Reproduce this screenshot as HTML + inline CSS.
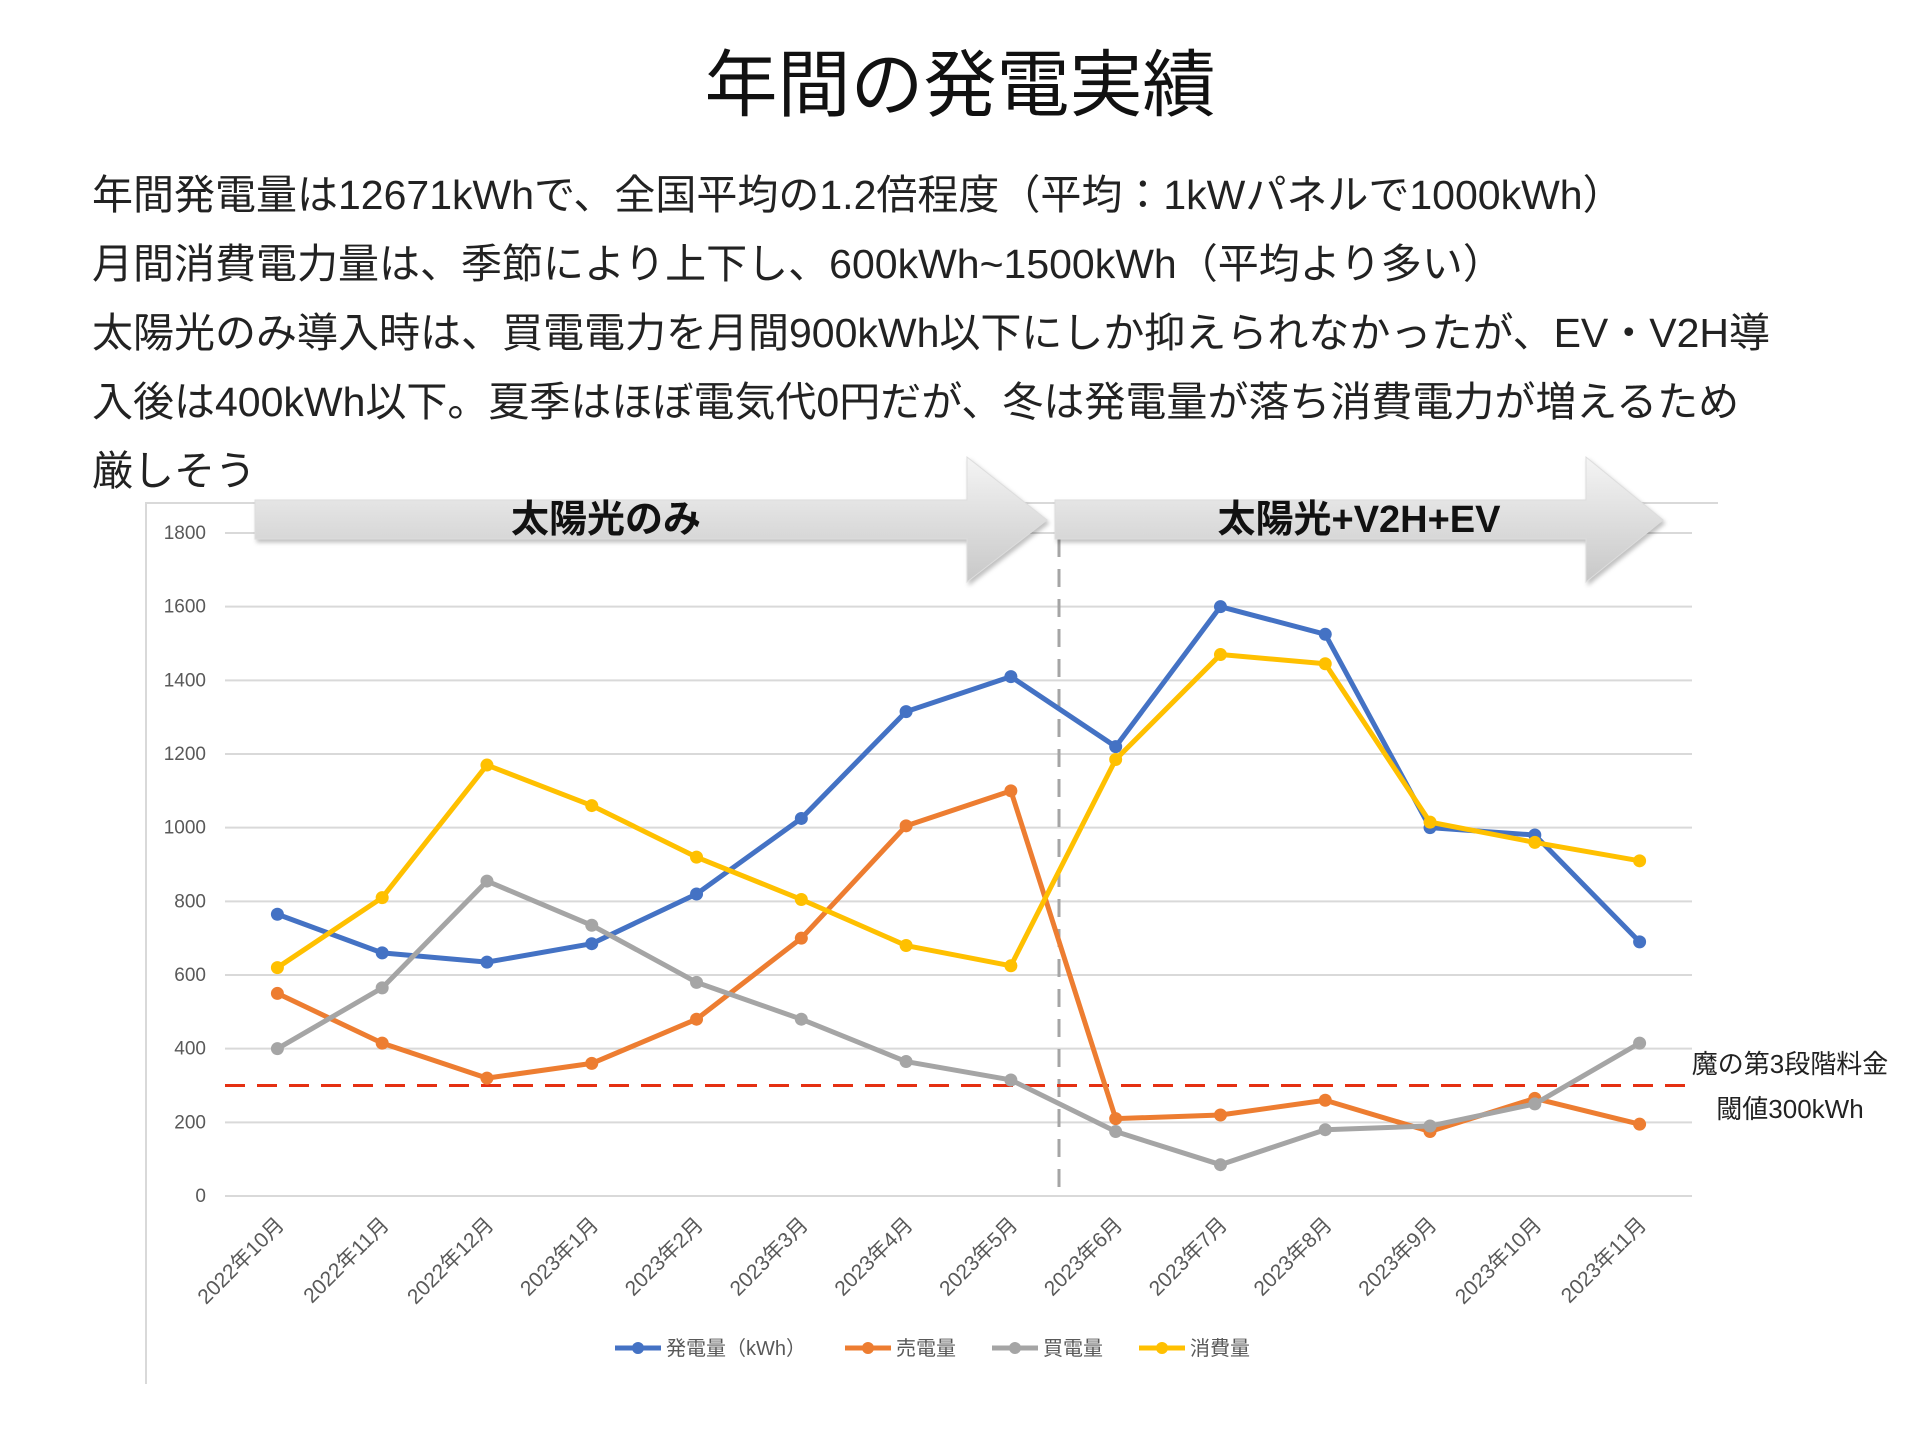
<!DOCTYPE html>
<html><head><meta charset="utf-8">
<style>
html,body{margin:0;padding:0;background:#fff;width:1920px;height:1440px;overflow:hidden;font-family:"Liberation Sans","Noto Sans CJK JP",sans-serif;}
#title{position:absolute;left:0;width:1920px;top:26px;text-align:center;font-size:73px;color:#111;}
#para{position:absolute;left:92px;top:161px;font-size:41px;line-height:69px;color:#222;white-space:nowrap;}
</style></head>
<body>
<div id="title">年間の発電実績</div>
<div id="para">年間発電量は12671kWhで、全国平均の1.2倍程度（平均：1kWパネルで1000kWh）<br>月間消費電力量は、季節により上下し、600kWh~1500kWh（平均より多い）<br>太陽光のみ導入時は、買電電力を月間900kWh以下にしか抑えられなかったが、EV・V2H導<br>入後は400kWh以下。夏季はほぼ電気代0円だが、冬は発電量が落ち消費電力が増えるため<br>厳しそう</div>
<svg id="chart" width="1920" height="1440" style="position:absolute;left:0;top:0">
<defs>
<linearGradient id="g" x1="0" y1="0" x2="0" y2="1"><stop offset="0" stop-color="#f4f4f4"/><stop offset="1" stop-color="#c8c8c8"/></linearGradient>
</defs>
<g id="frame"></g>
<g id="grid"></g>
<g id="arrows"></g>
<g id="series"></g>
<g id="labels"></g>
</svg>
<script>
const categories=["2022年10月","2022年11月","2022年12月","2023年1月","2023年2月","2023年3月","2023年4月","2023年5月","2023年6月","2023年7月","2023年8月","2023年9月","2023年10月","2023年11月"];
const generation=[765,660,635,685,820,1025,1315,1410,1220,1600,1525,1000,980,690];
const sold=[550,415,320,360,480,700,1005,1100,210,220,260,175,265,195];
const bought=[400,565,855,735,580,480,365,315,175,85,180,190,250,415];
const consumption=[620,810,1170,1060,920,805,680,625,1185,1470,1445,1015,960,910];
const yTicks=[0,200,400,600,800,1000,1200,1400,1600,1800];
const threshold=300;
const seriesNames=["発電量（kWh）","売電量","買電量","消費量"];
const seriesColors=["#4472c4","#ed7d31","#a5a5a5","#ffc000"];

const NS="http://www.w3.org/2000/svg";
const X0=225,X1=1692,Y0=1196,Y1=533,YMAX=1800;
const step=(X1-X0)/categories.length;
const xs=i=>X0+step*(i+0.5);
const ys=v=>Y0-(v/YMAX)*(Y0-Y1);
function mk(tag,attrs,parent,text){const e=document.createElementNS(NS,tag);for(const k in attrs)e.setAttribute(k,attrs[k]);if(text!==undefined)e.textContent=text;document.getElementById(parent).appendChild(e);return e;}

let e;
e=mk('path',{d:`M146 1384 V503 H1718`,fill:'none',stroke:'#d9d9d9','stroke-width':2},'frame');



yTicks.forEach(t=>{
  e=mk('line',{x1:X0,x2:X1,y1:ys(t),y2:ys(t),stroke:'#d9d9d9','stroke-width':2},'grid');
  
  
  e=mk('text',{x:206,y:ys(t)+6,'text-anchor':'end','font-size':19,fill:'#595959'},'labels',String(t));
  
  
});
categories.forEach((c,i)=>{
  e=mk('text',{transform:`translate(${xs(i)+8},1226) rotate(-45)`,'text-anchor':'end','font-size':21,fill:'#595959'},'labels',c);
  
  
});

const divX=1059;
e=mk('line',{x1:divX,x2:divX,y1:539,y2:Y0,stroke:'#a5a5a5','stroke-width':3,'stroke-dasharray':'18,12'},'grid');


e=mk('line',{x1:X0,x2:X1,y1:ys(threshold),y2:ys(threshold),stroke:'#e53012','stroke-width':3,'stroke-dasharray':'20,12'},'grid');



function arrow(x0,x1,xh,lx,label,name){
  const g=mk('g',{},'arrows');
  
  
  const p=document.createElementNS(NS,'path');
  p.setAttribute('d',`M${x0} 500 H${x1} V457 L${xh} 520 L${x1} 582 V539 H${x0} Z`);
  p.setAttribute('fill','url(#g)');p.setAttribute('stroke','#ddd');
  p.setAttribute('style','filter:drop-shadow(2px 3px 2px rgba(0,0,0,0.25))');
  g.appendChild(p);
  const t=document.createElementNS(NS,'text');
  t.setAttribute('x',lx);t.setAttribute('y',532);t.setAttribute('text-anchor','middle');
  t.setAttribute('font-size',38);t.setAttribute('font-weight','bold');t.setAttribute('fill','#111');
  t.textContent=label;g.appendChild(t);
}
arrow(255,967,1047,606,"太陽光のみ","phase-arrow-solar");
arrow(1055,1586,1663,1359,"太陽光+V2H+EV","phase-arrow-v2h");

[generation,sold,bought,consumption].forEach((arr,si)=>{
  const pts=arr.map((v,i)=>`${xs(i)},${ys(v)}`).join(' ');
  e=mk('polyline',{points:pts,fill:'none',stroke:seriesColors[si],'stroke-width':5,'stroke-linejoin':'round'},'series');
  
  
  arr.forEach((v,i)=>{
    e=mk('circle',{cx:xs(i),cy:ys(v),r:6.5,fill:seriesColors[si]},'series');
    
    
  });
});

const legX=[615,845,992,1139];
seriesNames.forEach((n,i)=>{
  e=mk('line',{x1:legX[i],x2:legX[i]+46,y1:1348,y2:1348,stroke:seriesColors[i],'stroke-width':5},'labels');
  
  
  e=mk('circle',{cx:legX[i]+23,cy:1348,r:6,fill:seriesColors[i]},'labels');
  
  
  e=mk('text',{x:legX[i]+51,y:1355,'font-size':20,fill:'#595959'},'labels',n);
  
  
});

e=mk('text',{x:1790,y:1073,'text-anchor':'middle','font-size':26,fill:'#222'},'labels','魔の第3段階料金');


e=mk('text',{x:1790,y:1118,'text-anchor':'middle','font-size':26,fill:'#222'},'labels','閾値300kWh');


</script>
</body></html>
